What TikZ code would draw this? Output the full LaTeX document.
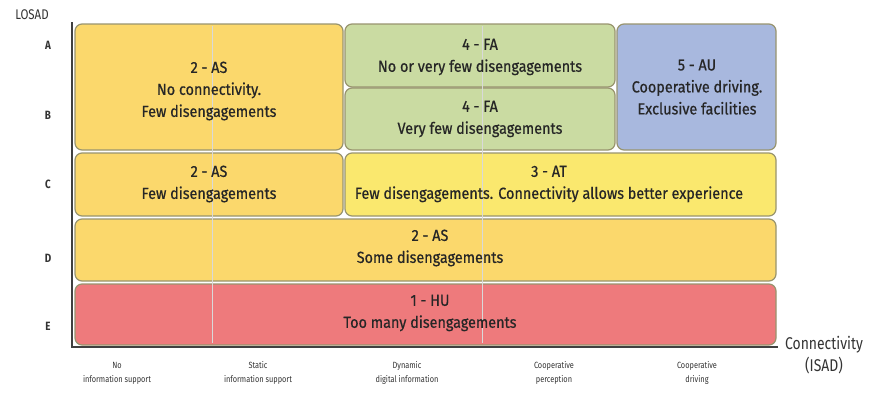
\documentclass[tikz,border=0pt]{standalone}
\usepackage{fontspec}
\setmainfont[FakeStretch=0.82]{Fira Sans}
\newfontfamily\medfont[FakeStretch=0.9,FakeBold=0.6]{Fira Sans}
\begin{document}
\begin{tikzpicture}[x=1pt,y=-1pt,
  cell/.style={draw=black!55!olive!60, line width=1.2pt, rounded corners=7pt},
  lbl/.style={align=center, font=\medfont\fontsize{16}{22}\selectfont\color{black!85}},
  rowlbl/.style={font=\fontsize{12}{14}\selectfont\bfseries\color{black!80}},
  collbl/.style={align=center, font=\fontsize{9}{14}\selectfont\color{black!80}},
  axis/.style={draw=black!75, line width=1.4pt}]
\useasboundingbox (0,0) rectangle (876,394);
\definecolor{cyel}{HTML}{FBD86C}
\definecolor{cgrn}{HTML}{CADBA2}
\definecolor{cblu}{HTML}{A8B8DE}
\definecolor{cyl2}{HTML}{FAE86E}
\definecolor{cred}{HTML}{EE7A7C}
% boxes
\filldraw[cell, fill=cyel] (75,24) rectangle (343,150);
\filldraw[cell, fill=cgrn] (345,24) rectangle (615,87);
\filldraw[cell, fill=cgrn] (345,88) rectangle (615,150);
\filldraw[cell, fill=cblu] (617,24) rectangle (776,150);
\filldraw[cell, fill=cyel] (75,153) rectangle (343,216);
\filldraw[cell, fill=cyl2] (345,153) rectangle (776,216);
\filldraw[cell, fill=cyel] (75,219) rectangle (776,281);
\filldraw[cell, fill=cred] (75,284) rectangle (776,345);
% faint grid lines
\foreach \gx in {212,482} \draw[black!15, line width=0.5pt] (\gx,26) -- (\gx,343);
% texts
\node[lbl] (asA) at (209,91) {2 - AS\\No connectivity.\\Few disengagements};
\node[lbl] (faA) at (480,57) {4 - FA\\No or very few disengagements};
\node[lbl] (faB) at (480,119) {4 - FA\\Very few disengagements};
\node[lbl] (au) at (697,87) {5 - AU\\Cooperative driving.\\Exclusive facilities};
\node[lbl] (asC) at (209,184) {2 - AS\\Few disengagements};
\node[lbl] (at) at (549,184) {3 - AT\\Few disengagements. Connectivity allows better experience};
\node[lbl] (asD) at (430,248) {2 - AS\\Some disengagements};
\node[lbl] (hu) at (430,313) {1 - HU\\Too many disengagements};
% axes
\coordinate (o) at (72,347);
\coordinate (ytop) at (72,22);
\coordinate (xend) at (778,347);
\draw[axis] (ytop) -- (o) -- (xend);
\node[font=\fontsize{14}{16}\selectfont\color{black!80}] (losad) at (32,15) {LOSAD};
\node[rowlbl] (ra) at (48,45) {A};
\node[rowlbl] (rb) at (48,115) {B};
\node[rowlbl] (rc) at (48,184) {C};
\node[rowlbl] (rd) at (48,258) {D};
\node[rowlbl] (re) at (48,326) {E};
\node[align=center, font=\fontsize{17}{22}\selectfont\color{black!80}] (isad) at (824,355) {Connectivity\\(ISAD)};
\node[collbl] (c1) at (117,373) {No\\information support};
\node[collbl] (c2) at (258,373) {Static\\information support};
\node[collbl] (c3) at (407,373) {Dynamic\\digital information};
\node[collbl] (c4) at (554,373) {Cooperative\\perception};
\node[collbl] (c5) at (697,373) {Cooperative\\driving};
\end{tikzpicture}
\end{document}
